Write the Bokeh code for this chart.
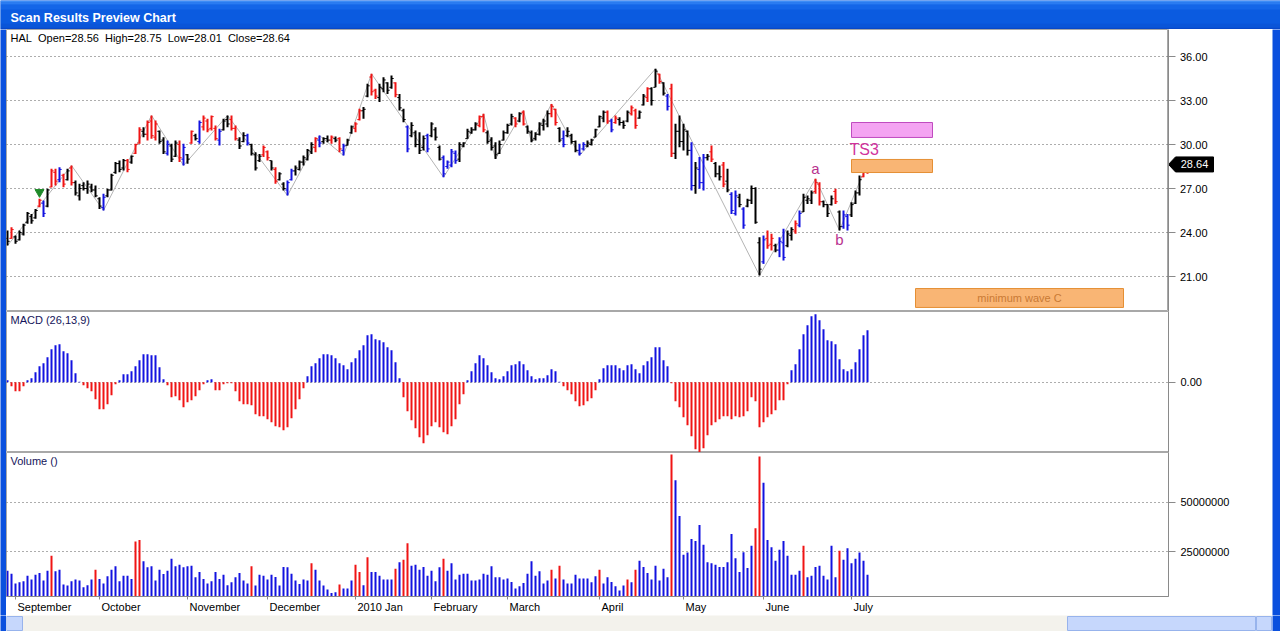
from bokeh.plotting import figure
from bokeh.layouts import column, row
from bokeh.models import (Range1d, FixedTicker, NumeralTickFormatter, ColumnDataSource, Label)
from bokeh.embed import file_html
from bokeh.resources import INLINE
from bokeh.core.properties import value

# ---------------- data ----------------
symbol = "HAL"
high = [24.14, 24.36, 23.80, 24.14, 24.59, 25.39, 25.27, 25.61, 26.30, 26.18,
        26.98, 28.34, 28.34, 28.45, 28.00, 28.34, 28.57, 27.55, 27.32, 27.43,
        27.55, 27.32, 27.20, 26.41, 26.64, 26.98, 28.00, 28.80, 28.91, 29.02,
        29.02, 29.25, 30.05, 31.18, 31.18, 31.64, 31.98, 31.64, 30.95, 30.50,
        30.27, 30.05, 30.27, 30.27, 30.05, 29.36, 30.95, 30.73, 31.64, 31.98,
        31.75, 31.98, 31.30, 31.07, 31.75, 31.98, 31.98, 31.30, 30.50, 30.84,
        30.73, 30.05, 29.48, 29.36, 29.93, 29.59, 28.91, 28.45, 28.11, 27.43,
        27.55, 28.34, 28.57, 28.91, 29.25, 29.70, 30.16, 30.50, 30.61, 30.50,
        30.61, 30.61, 30.55, 30.50, 30.05, 30.39, 31.30, 31.52, 32.43, 32.55,
        34.14, 34.82, 33.80, 34.14, 34.59, 34.25, 34.70, 34.25, 33.45, 32.43,
        31.30, 31.52, 30.95, 30.84, 30.61, 30.73, 31.52, 31.18, 29.93, 29.25,
        28.91, 29.70, 29.59, 30.16, 30.16, 31.07, 31.18, 31.52, 31.98, 32.09,
        30.95, 30.50, 30.16, 30.27, 30.95, 31.41, 32.09, 31.86, 32.20, 32.32,
        31.30, 30.95, 30.84, 31.52, 31.75, 32.32, 32.77, 32.43, 31.18, 30.95,
        31.18, 30.73, 30.27, 30.05, 30.16, 30.27, 30.39, 31.07, 31.98, 32.32,
        32.32, 31.75, 31.98, 31.86, 31.64, 32.32, 32.66, 32.43, 32.32, 33.45,
        33.91, 33.91, 35.16, 34.82, 34.25, 33.45, 34.14, 31.41, 31.98, 31.41,
        30.95, 30.16, 28.80, 29.14, 29.36, 29.36, 29.93, 28.80, 28.57, 28.80,
        28.34, 26.75, 26.86, 26.64, 25.73, 26.30, 27.20, 27.09, 23.68, 23.80,
        24.14, 23.91, 23.23, 23.68, 24.25, 24.14, 24.36, 24.82, 25.50, 26.64,
        26.52, 26.86, 27.66, 27.43, 26.18, 25.95, 26.52, 26.98, 25.50, 25.50,
        25.27, 26.07, 26.86, 27.89, 28.68, 28.75]
low = [23.11, 23.57, 23.23, 23.45, 23.80, 24.59, 24.59, 24.93, 25.73, 25.05,
       25.73, 27.09, 27.20, 27.43, 27.09, 27.55, 27.20, 26.52, 26.18, 26.86,
       26.64, 26.75, 26.41, 25.61, 25.50, 26.41, 26.86, 28.00, 28.11, 28.23,
       28.11, 28.68, 29.36, 30.05, 30.50, 30.27, 30.39, 30.27, 30.05, 29.36,
       29.25, 28.80, 29.14, 28.80, 28.57, 28.68, 30.05, 30.27, 30.05, 30.95,
       30.84, 30.95, 30.27, 29.93, 30.95, 31.18, 30.95, 30.27, 29.70, 30.16,
       29.93, 29.25, 28.23, 28.80, 29.14, 28.91, 28.23, 27.32, 27.55, 26.86,
       26.52, 27.55, 27.89, 28.23, 28.57, 28.91, 29.36, 29.48, 29.82, 30.05,
       30.16, 30.05, 30.16, 29.48, 29.25, 29.93, 30.73, 30.84, 31.64, 31.75,
       33.23, 33.34, 33.11, 32.89, 33.57, 33.45, 33.80, 33.23, 32.32, 31.52,
       29.48, 30.50, 29.82, 29.36, 29.59, 29.48, 30.50, 30.27, 28.91, 27.77,
       28.34, 28.45, 28.68, 28.80, 29.82, 30.39, 30.73, 30.95, 31.18, 30.84,
       30.05, 29.59, 29.02, 29.36, 30.27, 30.73, 31.30, 31.18, 31.52, 31.30,
       30.73, 30.16, 30.27, 30.61, 30.95, 31.18, 31.86, 31.30, 30.16, 29.82,
       30.50, 30.05, 29.48, 29.25, 29.59, 29.82, 29.93, 30.50, 31.18, 31.52,
       31.41, 30.84, 31.41, 31.30, 31.07, 31.52, 31.98, 31.07, 31.75, 32.66,
       32.89, 32.66, 33.91, 34.14, 33.34, 32.32, 29.14, 29.02, 29.82, 29.59,
       29.25, 26.86, 26.64, 26.98, 26.86, 28.91, 28.80, 27.77, 27.55, 27.09,
       26.75, 25.27, 25.16, 25.73, 24.25, 25.73, 25.95, 24.59, 21.07, 21.86,
       22.89, 22.77, 22.66, 22.32, 22.09, 23.00, 23.45, 23.91, 24.36, 25.39,
       25.95, 25.95, 26.64, 25.84, 25.73, 25.05, 25.84, 25.95, 24.14, 24.25,
       24.14, 25.05, 25.95, 26.52, 27.77, 28.01]
open_ = [23.6, 23.6, 23.7, 23.5, 23.9, 24.7, 25.1, 25.0, 25.8, 26.0,
         25.8, 27.1, 28.1, 27.6, 27.9, 27.6, 28.4, 27.4, 26.5, 27.2,
         27.0, 27.1, 26.9, 26.3, 25.7, 26.5, 26.9, 28.1, 28.7, 28.4,
         28.9, 28.8, 29.4, 30.1, 30.9, 30.7, 31.6, 30.5, 30.9, 30.3,
         29.4, 29.9, 29.2, 30.0, 29.0, 29.3, 30.1, 30.6, 30.2, 31.2,
         31.6, 31.1, 31.1, 30.3, 31.0, 31.7, 31.7, 31.1, 30.3, 30.2,
         30.6, 30.0, 29.3, 28.9, 29.3, 29.5, 28.9, 28.3, 27.6, 27.3,
         26.9, 27.6, 28.2, 28.3, 28.8, 29.0, 29.5, 29.8, 30.3, 30.2,
         30.4, 30.3, 30.4, 30.4, 29.6, 29.95, 30.8, 31.1, 31.7, 32.3,
         33.3, 34.6, 33.7, 33.2, 33.8, 34.2, 33.9, 34.2, 33.2, 32.3,
         31.2, 30.6, 30.8, 30.0, 29.8, 30.6, 30.6, 31.0, 29.8, 29.1,
         28.5, 28.6, 29.4, 29.0, 29.9, 30.4, 30.8, 31.0, 31.3, 31.9,
         30.8, 30.3, 29.9, 29.4, 30.3, 30.8, 31.4, 31.8, 31.6, 32.2,
         31.2, 30.8, 30.4, 30.7, 31.3, 31.4, 32.1, 32.4, 31.1, 30.4,
         30.6, 30.6, 30.2, 29.6, 29.7, 29.9, 30.0, 30.5, 31.2, 31.8,
         32.2, 31.6, 31.5, 31.7, 31.5, 31.6, 32.1, 32.3, 31.8, 32.7,
         33.2, 33.8, 33.9, 34.8, 34.2, 33.3, 33.8, 29.4, 30.9, 30.2,
         30.9, 29.6, 27.2, 28.3, 27.4, 29.1, 29.5, 28.7, 28.0, 28.6,
         27.5, 26.6, 25.3, 26.4, 25.6, 25.8, 26.2, 27.0, 23.3, 22.0,
         23.6, 23.2, 23.1, 22.8, 23.3, 23.1, 23.8, 24.1, 24.5, 25.4,
         26.2, 26.2, 26.8, 27.3, 26.1, 25.9, 25.9, 26.8, 25.4, 24.4,
         25.1, 25.2, 26.0, 26.7, 27.8, 28.56]
close = [23.4, 24.2, 23.4, 24.0, 24.5, 25.3, 24.8, 25.5, 26.2, 25.3,
         26.9, 28.2, 27.5, 28.3, 27.3, 28.2, 27.4, 26.7, 27.0, 27.0,
         27.3, 26.9, 26.5, 25.8, 26.4, 26.9, 27.9, 28.7, 28.3, 28.9,
         28.3, 29.2, 30.0, 31.0, 30.7, 31.5, 30.6, 31.4, 30.2, 29.5,
         30.0, 29.0, 30.1, 29.1, 29.8, 29.0, 30.9, 30.4, 31.5, 31.8,
         31.0, 31.9, 30.4, 30.9, 31.6, 31.4, 31.1, 30.4, 29.9, 30.6,
         30.1, 29.4, 28.4, 29.2, 29.8, 29.1, 28.4, 27.5, 28.0, 27.0,
         27.4, 28.2, 28.4, 28.8, 29.1, 29.6, 30.0, 30.4, 30.1, 30.4,
         30.3, 30.5, 30.3, 29.7, 29.9, 30.3, 31.2, 31.4, 32.3, 32.4,
         34.0, 33.6, 33.3, 33.9, 34.4, 33.7, 34.5, 33.4, 32.5, 31.7,
         29.7, 31.3, 30.0, 29.6, 30.4, 29.7, 31.4, 30.5, 29.0, 28.0,
         28.8, 29.5, 28.9, 30.0, 30.1, 30.9, 31.0, 31.4, 31.9, 31.0,
         30.2, 29.8, 29.3, 30.0, 30.8, 31.3, 31.9, 31.4, 32.1, 31.4,
         30.9, 30.3, 30.7, 31.4, 31.6, 32.1, 32.6, 31.5, 30.3, 30.0,
         30.9, 30.2, 29.6, 29.4, 30.0, 30.1, 30.3, 31.0, 31.9, 32.2,
         31.6, 31.0, 31.8, 31.5, 31.3, 32.2, 32.5, 31.3, 32.2, 33.3,
         33.8, 33.0, 35.0, 34.3, 33.5, 32.6, 29.4, 30.9, 30.2, 31.0,
         29.6, 27.2, 28.4, 27.4, 29.1, 29.2, 29.0, 28.0, 27.8, 27.3,
         26.9, 25.5, 26.5, 25.9, 24.5, 26.2, 27.0, 24.7, 21.5, 23.5,
         23.1, 23.6, 22.8, 23.4, 22.3, 23.9, 24.2, 24.6, 25.3, 26.4,
         26.3, 26.7, 27.4, 26.1, 25.9, 25.3, 26.3, 26.1, 24.4, 25.2,
         24.5, 25.9, 26.7, 27.6, 28.5, 28.64]
# bar colour codes: k = black, r = red, b = blue
bar_color = list("krkkkkkkrb" "krrbrkrkkk" "kkkkbkkkkk" "rkrrkrrrkk" "bkkrbkrkbr"
                 "rrrbkkrrkk" "bkkkrrkrkk" "bbkkkkkrbk" "krkrbkkrrk" "krrkkkkrkk"
                 "bkkkkbkkkb" "bbbkkkkkrr" "kkkkkkkrkr" "kkkkkkrrkb" "kkkbbkkkkk"
                 "rbrkkkrrkk" "rkkrkbrkkk" "kbkbbkrkkr" "kbbkbkkkkb" "rrkbbkkrbk"
                 "kkrrkkkrkb" "bkkkrr")
macd_hist = [0.04, -0.08, -0.18, -0.18, -0.08, 0.04, 0.08, 0.20, 0.32, 0.38,
             0.50, 0.66, 0.74, 0.76, 0.62, 0.58, 0.44, 0.18, 0.006, -0.06,
             -0.12, -0.18, -0.34, -0.54, -0.54, -0.44, -0.26, -0.04, 0.04, 0.16,
             0.16, 0.22, 0.32, 0.44, 0.56, 0.56, 0.54, 0.54, 0.30, 0.06,
             -0.06, -0.30, -0.28, -0.36, -0.50, -0.40, -0.36, -0.28, -0.16, -0.04,
             0.04, 0.06, -0.16, -0.16, -0.04, -0.02, -0.02, -0.18, -0.38, -0.44,
             -0.44, -0.46, -0.64, -0.68, -0.68, -0.74, -0.80, -0.88, -0.90, -0.96,
             -0.90, -0.72, -0.54, -0.34, -0.12, 0.12, 0.32, 0.38, 0.48, 0.56,
             0.56, 0.54, 0.48, 0.38, 0.34, 0.26, 0.40, 0.48, 0.64, 0.74,
             0.94, 0.96, 0.86, 0.84, 0.80, 0.70, 0.64, 0.40, 0.08, -0.30,
             -0.58, -0.76, -0.92, -1.10, -1.22, -1.06, -0.88, -0.80, -0.90, -1.00,
             -1.04, -0.88, -0.74, -0.44, -0.24, 0.04, 0.22, 0.38, 0.54, 0.48,
             0.34, 0.20, 0.08, 0.06, 0.12, 0.22, 0.34, 0.36, 0.42, 0.36,
             0.24, 0.12, 0.06, 0.08, 0.08, 0.14, 0.26, 0.22, 0.006, -0.08,
             -0.16, -0.24, -0.38, -0.48, -0.46, -0.38, -0.32, -0.16, 0.06, 0.28,
             0.34, 0.34, 0.34, 0.28, 0.24, 0.34, 0.36, 0.26, 0.18, 0.34,
             0.42, 0.50, 0.70, 0.70, 0.44, 0.32, -0.02, -0.38, -0.50, -0.70,
             -0.86, -1.08, -1.34, -1.40, -1.32, -1.06, -0.86, -0.80, -0.74, -0.68,
             -0.68, -0.74, -0.68, -0.70, -0.68, -0.58, -0.30, -0.38, -0.90, -0.80,
             -0.70, -0.64, -0.56, -0.36, -0.36, -0.04, 0.24, 0.36, 0.66, 0.96,
             1.14, 1.32, 1.36, 1.24, 1.06, 0.84, 0.82, 0.76, 0.46, 0.26,
             0.22, 0.26, 0.40, 0.66, 0.94, 1.04]
volume_m = [15.5, 14.0, 9.0, 9.7, 10.2, 13.0, 11.0, 13.5, 14.3, 10.5,
            15.5, 23.0, 15.2, 16.0, 8.5, 8.0, 10.2, 11.0, 10.5, 7.2,
            8.2, 11.0, 16.0, 11.3, 9.0, 12.7, 16.0, 17.7, 10.2, 13.0,
            13.0, 11.3, 30.2, 31.0, 20.2, 17.2, 17.7, 10.5, 16.0, 13.8,
            15.5, 21.5, 17.7, 18.5, 17.2, 17.7, 18.0, 12.2, 14.8, 11.3,
            9.0, 10.2, 14.8, 11.3, 13.5, 8.2, 9.7, 12.2, 14.3, 10.5,
            9.0, 17.7, 8.0, 13.5, 13.0, 11.0, 13.5, 12.3, 8.0, 17.3,
            17.2, 14.0, 10.5, 8.8, 11.0, 10.5, 19.3, 16.0, 10.5, 8.0,
            6.0, 4.3, 4.7, 8.5, 6.5, 6.5, 10.5, 18.5, 14.8, 8.2,
            22.3, 14.8, 14.8, 13.0, 11.0, 11.0, 11.0, 16.5, 19.8, 21.0,
            29.3, 18.0, 18.5, 16.0, 17.3, 13.0, 15.5, 10.2, 17.2, 21.5,
            15.5, 19.3, 11.0, 13.5, 14.0, 14.0, 10.5, 10.5, 11.0, 14.0,
            13.5, 17.7, 12.2, 12.2, 11.0, 11.5, 9.8, 6.5, 7.7, 9.3,
            14.0, 20.2, 13.0, 15.2, 9.0, 10.5, 16.0, 11.5, 18.0, 11.0,
            9.0, 9.0, 13.5, 11.5, 11.5, 11.5, 9.7, 12.7, 16.0, 9.0,
            12.2, 9.8, 7.7, 5.5, 8.0, 11.0, 9.7, 16.0, 20.5, 17.3,
            14.3, 11.0, 18.0, 10.5, 16.5, 12.2, 74.0, 61.0, 43.0, 23.5,
            24.7, 31.5, 30.5, 38.5, 28.5, 19.8, 19.3, 18.5, 17.3, 17.3,
            19.8, 34.0, 21.8, 14.8, 24.8, 16.8, 28.0, 36.8, 73.0, 59.8,
            31.0, 27.3, 20.5, 26.0, 30.5, 23.0, 13.5, 13.5, 15.5, 28.0,
            12.2, 13.0, 17.3, 18.0, 13.0, 11.0, 28.0, 12.2, 25.5, 21.0,
            26.8, 19.3, 21.5, 24.7, 20.5, 13.5]
vol_red_days = [11, 22, 32, 33, 61, 76, 83, 87, 88, 90, 97, 99, 100, 109, 136, 138,
                148, 155, 157, 166, 187, 188, 199, 208]
month_idx = [2, 23, 45, 65, 87, 106, 125, 148, 169, 189, 211]
month_labels = ["September", "October", "November", "December", "2010 Jan", "February",
                "March", "April", "May", "June", "July"]
price_ticks = [21, 24, 27, 30, 33, 36]
volume_ticks = [25000000, 50000000]
# zig-zag swing points
pivot_idx = [0, 16, 24, 36, 44, 55, 70, 78, 84, 91, 109, 119, 122, 129, 131, 136,
             143, 162, 188, 202, 208, 215]
pivot_kind = ["L", "H", "L", "H", "L", "H", "L", "H", "L", "H", "L", "H", "L", "H",
              "L", "H", "L", "H", "L", "H", "L", "H"]
wave_text = ["a", "b"]
wave_idx = [202, 208]
signal_idx = [8]
# target zones: (left idx, right idx, bottom, top)
zone_left = [211.0, 211.0, 227.0]
zone_right = [231.25, 231.25, 279.0]
zone_bottom = [30.48, 28.09, 18.89]
zone_top = [31.50, 28.98, 20.18]
zone_text = ["", "", "minimum wave C"]

n = len(close)
assert len(high) == n and len(low) == n and len(open_) == n and len(bar_color) == n
assert len(macd_hist) == n and len(volume_m) == n

# ---------------- layout constants ----------------
TOTAL_W = 1280
LEFT_B = 6
RIGHT_B = 8
MAIN_W = TOTAL_W - LEFT_B - RIGHT_B      # 1266
FRAME_W = 1162
RB = MAIN_W - FRAME_W                    # 104
X0 = -0.25
X1 = X0 + FRAME_W / 4.0
PX = 0.25                                # index units per pixel
FONT = "Liberation Sans"
GRID = "#5a5a5a"
AXC = "#8a8a8a"
RED = "#f01414"
BLUE = "#1212e0"
COL = {"k": "#000000", "r": RED, "b": BLUE}
WIN_BLUE = "#0a50de"
NB = "\u00a0"

H_TITLE, H_PRICE, H_MACD, H_VOL, H_SCROLL, H_BOT = 29, 282, 141, 163, 16, 4

xr = Range1d(X0, X1)

# Arial-like advance widths (em) used to place left-aligned month labels
CW = {"S": .667, "e": .556, "p": .556, "t": .278, "m": .833, "b": .556, "r": .333,
      "O": .778, "c": .5, "o": .556, "N": .722, "v": .5, "D": .722, "0": .556,
      "1": .556, "2": .556, " ": .278, "J": .5, "a": .556, "n": .556, "F": .611,
      "u": .556, "y": .5, "M": .833, "h": .556, "A": .667, "i": .222, "l": .222}


def text_w(s, size=11.0):
    return sum(CW.get(ch, .556) for ch in s) * size


def blank(w, h, color):
    f = figure(width=w, height=h, x_range=Range1d(0, w), y_range=Range1d(0, h),
               output_backend="svg", toolbar_location=None,
               x_axis_location=None, y_axis_location=None, min_border=0)
    f.background_fill_color = color
    f.border_fill_color = color
    f.outline_line_color = None
    f.grid.visible = False
    return f


def style_axis(ax):
    ax.axis_line_color = AXC
    ax.minor_tick_out = 0
    ax.minor_tick_in = 0
    ax.major_tick_line_color = AXC
    ax.major_label_text_font = FONT
    ax.major_label_text_font_size = "11px"
    ax.major_label_text_color = "#000000"


def panel(height, yr, bottom=0, xaxis=False, yaxis=True, width=MAIN_W, rb=RB):
    p = figure(width=width, height=height, x_range=xr, y_range=yr,
               output_backend="svg", toolbar_location=None,
               x_axis_location="below" if xaxis else None,
               y_axis_location="right" if yaxis else None,
               min_border_left=0, min_border_right=rb, min_border_top=0,
               min_border_bottom=bottom)
    p.outline_line_color = "#a8a8a8"
    p.background_fill_color = "white"
    p.border_fill_color = "white"
    p.xgrid.visible = False
    if yaxis:
        ax = p.yaxis[0]
        style_axis(ax)
        ax.major_tick_out = 7
        ax.major_tick_in = 0
        ax.major_label_standoff = 5
    p.ygrid.grid_line_color = GRID
    p.ygrid.grid_line_dash = "1 3"
    p.ygrid.grid_line_width = 1
    return p


# ---------------- title bar ----------------
tb = blank(TOTAL_W, H_TITLE, "#0b5be0")
tb.quad(left=[0] * 6, right=[TOTAL_W] * 6,
        bottom=[0, 2, 6, 20, 25, 27], top=[2, 6, 20, 25, 27, 29],
        fill_color=["#0848c8", "#0a55d8", "#0b5be0", "#1466e8", "#2a7cf2", "#3c8cf6"],
        line_color=None)
tb.add_layout(Label(x=10, y=12, text="Scan Results Preview Chart", text_color="white",
                    text_font=FONT, text_font_style="bold", text_font_size="12.5px",
                    text_baseline="middle"))

# ---------------- price panel ----------------
P_TOP = 37.841
P_BOT = 18.614
pyr = Range1d(P_BOT, P_TOP)
pp = panel(H_PRICE, pyr, yaxis=False, width=FRAME_W, rb=0)
pp.ygrid.ticker = FixedTicker(ticks=price_ticks)

idx = list(range(n))
src = ColumnDataSource(dict(x=idx, xo=[i - 0.55 for i in idx], xc=[i + 0.55 for i in idx],
                            o=open_, h=high, l=low, c=close,
                            col=[COL[k] for k in bar_color]))
zz_y = [high[i] if k == "H" else low[i] for i, k in zip(pivot_idx, pivot_kind)]
pp.line(pivot_idx, zz_y, line_color="#b4b4b4", line_width=1)

pp.vbar(x="x", bottom="l", top="h", width=0.5, fill_color="col", line_color=None, source=src)
pp.segment(x0="xo", y0="o", x1="x", y1="o", line_color="col", line_width=1, source=src)
pp.segment(x0="x", y0="c", x1="xc", y1="c", line_color="col", line_width=1, source=src)

pp.scatter([signal_idx[0]], [high[signal_idx[0]] + 0.45], marker="inverted_triangle",
           size=9, fill_color="#1f8a2a", line_color="#1f8a2a")

zsrc = ColumnDataSource(dict(l=zone_left, r=zone_right, b=zone_bottom, t=zone_top,
                             fc=["#f4a4f2", "#f9b574", "#f9b574"],
                             lc=["#c04cc0", "#e58f34", "#e58f34"],
                             cx=[(a + b) / 2 for a, b in zip(zone_left, zone_right)],
                             cy=[(a + b) / 2 for a, b in zip(zone_bottom, zone_top)],
                             txt=zone_text))
pp.quad(left="l", right="r", bottom="b", top="t", fill_color="fc", line_color="lc",
        line_width=1, source=zsrc)
pp.text(x="cx", y="cy", text="txt", source=zsrc, text_color="#c97a35",
        text_font=value(FONT), text_font_size="11px", text_align="center",
        text_baseline="middle")
pp.text(x=[zone_left[1] - 0.5], y=[zone_top[1]], text=["TS3"], text_color="#d0329c",
        text_font=value(FONT), text_font_size="16px", text_align="left",
        text_baseline="bottom", y_offset=-1)
pp.text(x=[wave_idx[0]], y=[high[wave_idx[0]]], text=[wave_text[0]], text_color="#b8328e",
        text_font=value(FONT), text_font_size="15px", text_align="center",
        text_baseline="bottom", y_offset=-2)
pp.text(x=[wave_idx[1]], y=[low[wave_idx[1]]], text=[wave_text[1]], text_color="#b8328e",
        text_font=value(FONT), text_font_size="15px", text_align="center",
        text_baseline="top", y_offset=1)

hdr = (NB + " ").join([symbol, "Open=%.2f" % open_[-1], "High=%.2f" % high[-1],
                       "Low=%.2f" % low[-1], "Close=%.2f" % close[-1]])
pp.add_layout(Label(x=X0, y=P_TOP, x_offset=4, y_offset=-2, text=hdr,
                    text_font=FONT, text_font_size="11px", text_color="#000000",
                    text_baseline="top"))

# price axis lives in its own figure so the last-price tag can be drawn beside it
pax = figure(width=RB, height=H_PRICE, x_range=Range1d(0, RB), y_range=pyr,
             output_backend="svg", toolbar_location=None,
             x_axis_location=None, y_axis_location="left", min_border=0)
pax.background_fill_color = "white"
pax.border_fill_color = "white"
pax.outline_line_color = None
pax.grid.visible = False
pa = pax.yaxis[0]
style_axis(pa)
pa.ticker = FixedTicker(ticks=price_ticks)
pa.formatter = NumeralTickFormatter(format="0.00")
pa.major_tick_out = 0
pa.major_tick_in = 7
pa.major_label_standoff = -39
pa.axis_line_color = AXC

last = close[-1]
pyu = 3.0 / 44.0
pax.patch([0, 7, 45, 45, 7],
          [last, last + 7.5 * pyu, last + 7.5 * pyu, last - 7.5 * pyu, last - 7.5 * pyu],
          fill_color="black", line_color="black")
pax.text(x=[26], y=[last], text=["%.2f" % last], text_color="white",
         text_font=value(FONT), text_font_size="11px", text_align="center",
         text_baseline="middle")

# ---------------- MACD panel ----------------
mp = panel(H_MACD, Range1d(-1.407, 1.413))
mp.yaxis[0].ticker = FixedTicker(ticks=[0])
mp.yaxis[0].formatter = NumeralTickFormatter(format="0.00")
msrc = ColumnDataSource(dict(x=idx, v=macd_hist,
                             col=[BLUE if v >= 0 else RED for v in macd_hist]))
mp.vbar(x="x", bottom=0, top="v", width=0.5, fill_color="col", line_color=None, source=msrc)
mp.add_layout(Label(x=X0, y=1.413, x_offset=4, y_offset=-2, text="MACD (26,13,9)",
                    text_font=FONT, text_font_size="11px", text_color="#14145a",
                    text_baseline="top"))

# ---------------- volume panel ----------------
vp = panel(H_VOL, Range1d(2.5e6, 75e6), bottom=H_VOL - 145, xaxis=True)
vp.yaxis[0].ticker = FixedTicker(ticks=volume_ticks)
vp.yaxis[0].formatter = NumeralTickFormatter(format="0")
vsrc = ColumnDataSource(dict(x=idx, v=[m * 1e6 for m in volume_m],
                             col=[RED if i in vol_red_days else BLUE for i in idx]))
vp.vbar(x="x", bottom=0, top="v", width=0.5, fill_color="col", line_color=None, source=vsrc)
vp.add_layout(Label(x=X0, y=75e6, x_offset=4, y_offset=-2, text="Volume ()",
                    text_font=FONT, text_font_size="11px", text_color="#14145a",
                    text_baseline="top"))
# month labels start just right of each month tick: major ticks (no marks) carry the
# labels, minor ticks mark the first trading day of each month
lbl_pos = [round(m + (2 + text_w(s) / 2.0) * PX, 2) for m, s in zip(month_idx, month_labels)]
xa = vp.xaxis[0]
style_axis(xa)
xa.ticker = FixedTicker(ticks=lbl_pos, minor_ticks=month_idx)
xa.major_label_overrides = {p: s for p, s in zip(lbl_pos, month_labels)}
xa.major_label_standoff = 1
xa.major_tick_out = 0
xa.major_tick_in = 0
xa.minor_tick_out = 3
xa.minor_tick_in = 0
xa.minor_tick_line_color = AXC

# ---------------- scroll bar ----------------
sb = blank(MAIN_W, H_SCROLL, "#f3f2ec")
sb.quad(left=[0, 1061, 1250], right=[16, 1249, 1265], bottom=[1, 1, 1], top=[15, 15, 15],
        fill_color=["#c6d7fc", "#c6d7fc", "#c6d7fc"], line_color="#97b3ec")

# ---------------- window frame ----------------
mid_h = H_PRICE + H_MACD + H_VOL
left_border = blank(LEFT_B, mid_h, WIN_BLUE)
right_border = blank(RIGHT_B, mid_h, WIN_BLUE)
left_b2 = blank(LEFT_B, H_SCROLL, WIN_BLUE)
right_b2 = blank(RIGHT_B, H_SCROLL, WIN_BLUE)
bottom_border = blank(TOTAL_W, H_BOT, WIN_BLUE)

main = column(row(pp, pax, spacing=0), mp, vp, spacing=0)
layout = column(tb,
                row(left_border, main, right_border, spacing=0),
                row(left_b2, sb, right_b2, spacing=0),
                bottom_border, spacing=0)
open("out.html", "w").write(file_html(layout, INLINE))
